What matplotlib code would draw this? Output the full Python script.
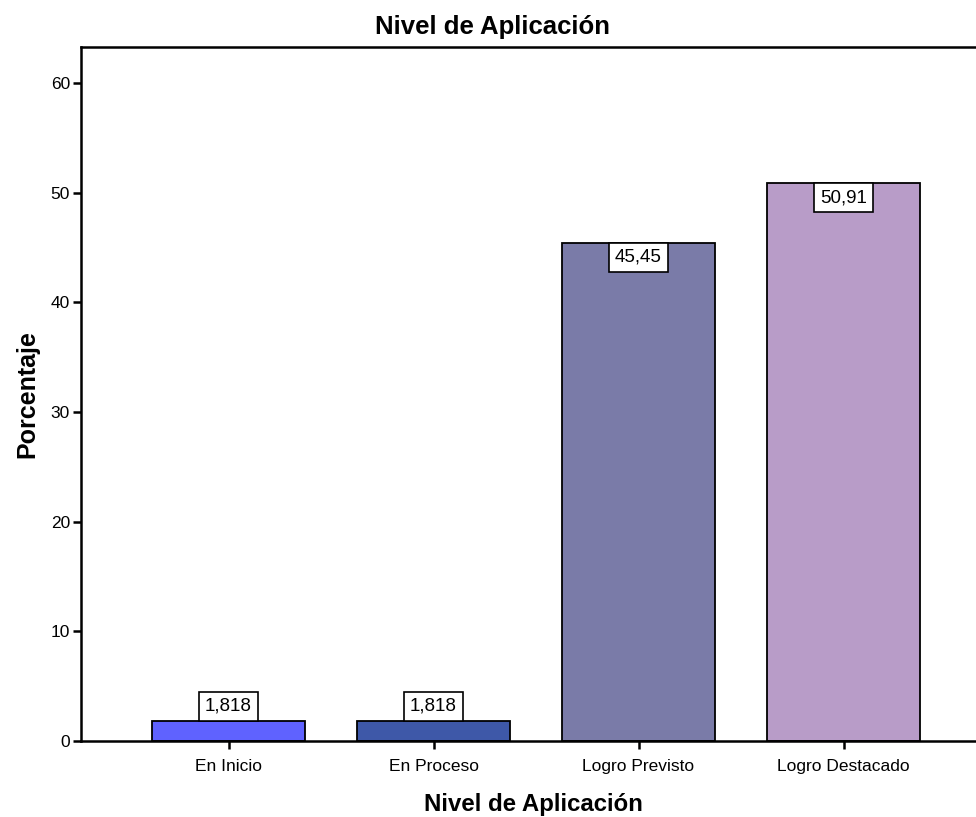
import matplotlib
matplotlib.use("Agg")
import matplotlib.pyplot as plt

categories = ["En Inicio", "En Proceso", "Logro Previsto", "Logro Destacado"]
percentages = [1.818, 1.818, 45.45, 50.91]
value_labels = ["1,818", "1,818", "45,45", "50,91"]
bar_colors = ["#5f62ff", "#3e58a8", "#7a7ba8", "#b89cc8"]
y_ticks = [0, 10, 20, 30, 40, 50, 60]

plt.rcParams["font.family"] = ["Liberation Sans", "DejaVu Sans"]

fig = plt.figure(figsize=(9.76, 8.17), dpi=100)
ax = fig.add_axes([81 / 976, 1 - 741 / 817, 1 - 81 / 976 + 0.01, (741 - 47) / 817])

x = list(range(len(categories)))
bars = ax.bar(x, percentages, width=0.746, color=bar_colors,
              edgecolor="black", linewidth=1.3, zorder=2)

ax.set_xlim(-0.7195, 3.646 + 0.01 * 976 / 205)
ax.set_ylim(0, 63.28)
ax.set_yticks(y_ticks)
ax.set_yticklabels([str(t) for t in y_ticks])
ax.set_xticks(x)
ax.set_xticklabels(categories)

for side in ["left", "bottom", "top"]:
    ax.spines[side].set_linewidth(1.8)
ax.spines["right"].set_visible(False)
ax.tick_params(axis="both", direction="out", length=6, width=1.8, labelsize=12.5)
ax.tick_params(axis="y", pad=2)
ax.tick_params(axis="x", pad=7)

ax.set_ylabel("Porcentaje", fontsize=18, fontweight="bold", labelpad=8)
ax.set_xlabel("Nivel de Aplicación", fontsize=17.3, fontweight="bold", labelpad=14)
fig.text(0.505, 1 - 27 / 817, "Nivel de Aplicación", ha="center", va="center",
         fontsize=18.5, fontweight="bold")

for xi, val, lab in zip(x, percentages, value_labels):
    if val < 10:
        ax.annotate(lab, (xi, val), xytext=(0, 4.6), textcoords="offset points",
                    ha="center", va="bottom", fontsize=13.5, zorder=3,
                    bbox=dict(boxstyle="square,pad=0.32", fc="white", ec="black", lw=1.2))
    else:
        ax.annotate(lab, (xi, val), xytext=(0, -4.6), textcoords="offset points",
                    ha="center", va="top", fontsize=13.5, zorder=3,
                    bbox=dict(boxstyle="square,pad=0.32", fc="white", ec="black", lw=1.2))

fig.savefig("out.png", dpi=100)
